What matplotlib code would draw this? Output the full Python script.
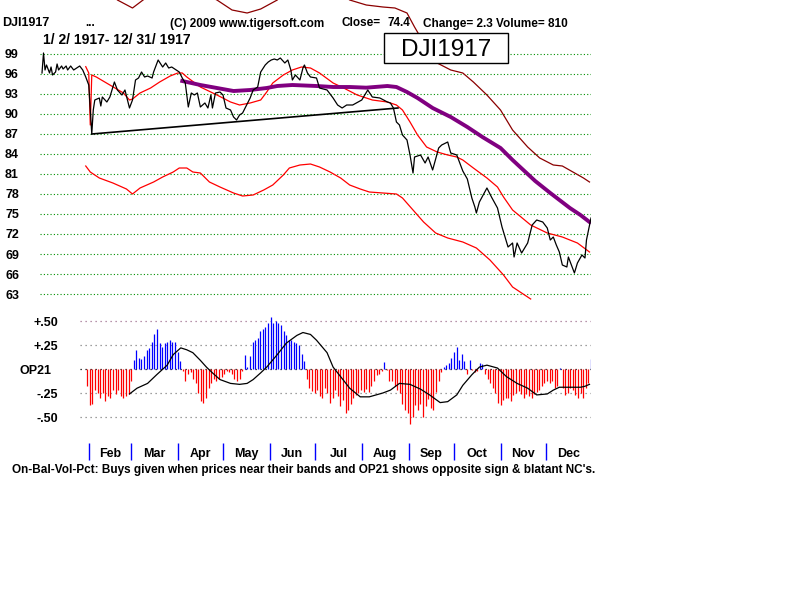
import numpy as np
import matplotlib
matplotlib.use("Agg")
import matplotlib.pyplot as plt
from matplotlib.patches import Rectangle
from matplotlib.transforms import blended_transform_factory

# ---- data (x = day of year) ----
close_days = [1, 2, 3, 4, 6, 7, 8, 10, 11, 12, 14, 15, 17, 18, 20, 22, 24, 26, 28, 30,
              32, 33, 34, 35, 36, 39, 40, 41, 44, 46, 49, 51, 54, 56, 59, 61, 63, 65, 67, 69,
              71, 74, 75, 78, 81, 83, 85, 87, 90, 92, 94, 96, 98, 100, 102, 104, 106, 109, 111, 113,
              114, 116, 119, 121, 123, 126, 128, 130, 132, 134, 136, 139, 141, 144, 146, 149, 151, 153, 155, 157,
              159, 162, 164, 166, 167, 169, 172, 174, 175, 177, 179, 183, 185, 190, 194, 197, 200, 203, 207, 213,
              217, 220, 225, 230, 232, 234, 236, 238, 240, 243, 245, 247, 248, 252, 255, 257, 260, 264, 266, 270,
              272, 276, 280, 283, 286, 288, 289, 291, 296, 299, 303, 306, 308, 310, 313, 314, 316, 319, 323, 326,
              329, 333, 336, 338, 340, 342, 344, 346, 349, 350, 352, 354, 356, 359, 361, 362, 365]
close_vals = [96.15, 99.15, 96.6, 97.35, 96.15, 97.05, 95.85, 96.3, 97.5, 96.6, 97.2, 96.75, 97.2, 96.6, 97.2, 96.6, 96.9, 97.2, 96.6, 95.55,
              94.35, 90.6, 87.0, 90.6, 92.1, 92.4, 91.2, 92.55, 91.8, 92.55, 94.8, 93.6, 92.85, 93.6, 90.9, 92.1, 95.1, 95.4, 96.3, 95.55,
              95.7, 95.4, 96.3, 98.1, 97.05, 97.65, 96.9, 97.05, 96.6, 96.3, 95.4, 94.65, 91.05, 93.15, 92.85, 93.15, 91.05, 91.65, 90.9, 92.85,
              90.9, 93.15, 93.3, 92.85, 90.9, 90.6, 89.55, 89.1, 89.85, 90.15, 91.05, 92.4, 93.6, 94.05, 96.3, 97.35, 97.8, 98.1, 98.25, 98.1,
              98.4, 97.65, 98.1, 96.6, 95.1, 95.85, 95.1, 96.9, 97.35, 96.15, 95.55, 95.4, 93.9, 93.6, 92.4, 91.35, 90.9, 91.35, 91.35, 92.1,
              93.6, 92.55, 92.4, 91.8, 91.65, 90.9, 88.8, 88.35, 86.85, 86.1, 83.85, 81.15, 83.55, 83.85, 82.65, 83.55, 81.6, 84.9, 85.35, 85.8,
              84.15, 83.85, 81.45, 80.25, 77.4, 76.05, 75.15, 76.8, 78.9, 77.55, 75.9, 73.05, 71.55, 70.05, 70.65, 68.55, 70.65, 69.15, 70.65, 73.35,
              74.1, 73.8, 72.9, 71.1, 71.55, 70.35, 69.3, 67.35, 67.05, 68.55, 67.35, 66.15, 67.65, 68.85, 68.4, 71.1, 74.4]

ma21_days = [30, 32, 33, 34, 37, 46, 55, 59, 61, 66, 73, 79, 86, 91, 94, 97, 106, 117, 126, 132,
             139, 146, 150, 154, 161, 167, 173, 179, 185, 194, 201, 210, 220, 230, 236, 240, 245, 250, 256, 263,
             270, 276, 280, 287, 296, 303, 307, 313, 325, 336, 346, 356, 364]
ma21_vals = [97.1, 96.15, 88.35, 95.85, 95.55, 94.35, 93.15, 92.1, 92.25, 93.15, 93.9, 94.8, 95.7, 96.15, 96.15, 95.55, 94.05, 92.85, 91.8, 91.35,
             91.65, 92.1, 93.3, 94.65, 95.85, 96.6, 97.05, 96.9, 96.15, 94.65, 93.9, 92.85, 92.1, 91.8, 91.35, 90.6, 88.8, 86.85, 85.05, 84.3,
             83.85, 83.55, 83.1, 81.9, 80.4, 79.05, 77.55, 75.6, 73.35, 72.15, 71.55, 70.65, 69.3]

upper_days = [30, 39, 51, 61, 68, 79, 92, 106, 117, 127, 137, 146, 157, 169, 179, 192, 205, 216, 227, 235,
              243, 248, 255, 263, 272, 280, 287, 296, 305, 313, 323, 331, 340, 346, 353, 360, 364]
upper_vals = [111.6, 110.1, 107.1, 105.9, 107.1, 108.9, 110.1, 108.3, 107.1, 105.6, 105.15, 105.75, 107.1, 110.85, 111.3, 109.35, 107.1, 106.35, 106.05, 105.9,
              105.15, 103.05, 100.35, 97.65, 96.6, 96.15, 94.8, 92.85, 90.6, 87.6, 85.05, 83.4, 82.35, 82.2, 81.3, 80.4, 79.8]

lower_days = [30, 33, 39, 48, 57, 61, 66, 75, 81, 88, 92, 97, 101, 106, 112, 119, 128, 134, 141, 148,
              154, 161, 165, 172, 179, 185, 192, 199, 205, 212, 218, 227, 236, 240, 247, 254, 262, 270, 280, 289,
              298, 307, 313, 325]
lower_vals = [82.2, 81.3, 80.4, 79.65, 78.75, 78.0, 78.9, 79.8, 80.55, 81.3, 81.9, 81.9, 81.3, 81.15, 79.8, 79.05, 78.15, 77.7, 77.85, 78.6,
              79.35, 80.85, 81.9, 82.35, 82.5, 82.05, 81.3, 80.4, 79.35, 78.75, 78.3, 78.15, 78.0, 77.4, 75.6, 73.8, 72.15, 71.4, 70.8, 69.9,
              68.1, 65.85, 64.05, 62.25]

ma65_days = [94, 106, 117, 128, 139, 150, 157, 167, 183, 194, 205, 216, 230, 236, 243, 250, 260, 272, 283, 293,
             305, 313, 328, 338, 351, 358, 364]
ma65_vals = [94.95, 94.35, 93.9, 93.45, 93.6, 93.9, 94.2, 94.35, 94.2, 94.05, 94.05, 93.95, 94.2, 94.05, 93.3, 92.4, 90.9, 89.55, 88.05, 86.55,
             84.9, 83.1, 79.95, 78.15, 75.9, 74.85, 73.8]

trend_days = [34, 237]
trend_vals = [87.0, 90.9]

# OP21 histogram, one bar per session from first_day to last_day
op21_first_day = 31
op21_last_day = 365
op21_vals = [-0.18, -0.38, -0.36, -0.22, -0.25, -0.30, -0.25, -0.33, -0.28, -0.30, -0.22, -0.26, -0.22, -0.28, -0.30, -0.28, -0.26, -0.13,
             0.09, 0.20, 0.11, 0.10, 0.14, 0.20, 0.22, 0.28, 0.36, 0.42, 0.27, 0.23, 0.27, 0.28, 0.30, 0.28, 0.28, 0.18, 0.08,
             -0.02, -0.13, -0.05, -0.03, -0.10, -0.15, -0.25, -0.33, -0.35, -0.30, -0.20, -0.15, -0.10, -0.12, -0.10, -0.08, -0.05, -0.02,
             -0.03, -0.05, -0.10, -0.13, -0.10, -0.02,
             0.15, 0.02, 0.14, 0.28, 0.30, 0.32, 0.40, 0.42, 0.44, 0.48, 0.54, 0.48, 0.50, 0.48, 0.46, 0.40, 0.35, 0.30, 0.30, 0.28,
             0.27, 0.25, 0.16, 0.08,
             -0.10, -0.20, -0.23, -0.25, -0.22, -0.28, -0.30, -0.20, -0.25, -0.35, -0.30, -0.22, -0.28,
             -0.39, -0.32, -0.46, -0.43, -0.36, -0.30, -0.27, -0.25, -0.22, -0.24, -0.21, -0.24, -0.18, -0.13, -0.06, -0.05, -0.02,
             0.07, -0.01, -0.13, -0.13, -0.18, -0.22, -0.25, -0.36, -0.43, -0.46, -0.57, -0.50, -0.38, -0.43, -0.36, -0.50, -0.39,
             -0.31, -0.41, -0.43, -0.24, -0.13, -0.03, 0.02, 0.04, 0.06, 0.11, 0.18, 0.23, 0.09, 0.16, 0.08, -0.05, 0.09,
             -0.01, -0.03, -0.02, 0.06, 0.05, -0.05, -0.10, -0.15, -0.20, -0.25, -0.35, -0.38, -0.32, -0.30, -0.30, -0.33, -0.27,
             -0.25, -0.23, -0.26, -0.30, -0.26, -0.28, -0.30, -0.26, -0.24, -0.22, -0.18, -0.15, -0.13, -0.15, -0.13, -0.20, -0.18,
             0.01, -0.20, -0.27, -0.25, -0.20, -0.22, -0.27, -0.30, -0.25, -0.30, -0.20, -0.15, 0.10]

op21_ma_days = [59, 64, 71, 77, 84, 88, 93, 97, 101, 106, 110, 114, 119, 126, 132, 137, 141, 146, 150, 157,
                163, 170, 174, 179, 183, 190, 194, 199, 205, 212, 218, 227, 232, 238, 245, 252, 258, 265, 270, 276,
                280, 286, 291, 296, 303, 309, 316, 323, 329, 336, 340, 344, 358, 361, 364]
op21_ma_vals = [-0.26, -0.20, -0.15, -0.06, 0.04, 0.15, 0.22, 0.20, 0.17, 0.09, 0.02, -0.04, -0.11, -0.15, -0.16, -0.15, -0.11, -0.04, 0.02, 0.15,
                0.27, 0.35, 0.38, 0.36, 0.30, 0.17, 0.02, -0.08, -0.20, -0.29, -0.29, -0.25, -0.22, -0.15, -0.16, -0.21, -0.27, -0.35, -0.34, -0.27,
                -0.17, -0.06, 0.02, 0.04, 0.01, -0.08, -0.15, -0.20, -0.27, -0.26, -0.22, -0.19, -0.19, -0.18, -0.16]

price_ticks = [99, 96, 93, 90, 87, 84, 81, 78, 75, 72, 69, 66, 63]
op21_ticks = [0.5, 0.25, 0, -0.25, -0.5]
op21_tick_labels = ["+.50", "+.25", "OP21", "-.25", "-.50"]
month_names = ["Feb", "Mar", "Apr", "May", "Jun", "Jul", "Aug", "Sep", "Oct", "Nov", "Dec"]
month_start_days = [32, 60, 91, 121, 152, 182, 213, 244, 274, 305, 335]
year_end_day = 365

# ---- layout helpers (screen pixels of an 800x600 picture) ----
W, H = 800, 600
PX_PER_DAY = 549 / 364.0


def box(x0, y0, x1, y1):
    return [x0 / W, 1 - y1 / H, (x1 - x0) / W, (y1 - y0) / H]


def day_at(px):
    return 1 + (px - 42) / PX_PER_DAY


def price_at(py):
    return 99 - (py - 54) * 0.15


FONT = "Liberation Sans"
small = dict(family=FONT, fontsize=8.5, fontweight="bold")
label = dict(family=FONT, fontsize=9, fontweight="bold")

fig = plt.figure(figsize=(8, 6), dpi=100)
fig.patch.set_facecolor("white")

# ---- price panel ----
ax1 = fig.add_axes(box(40, 0, 591, 300))
ax1.set_xlim(day_at(40), day_at(591))
ax1.set_ylim(price_at(300), price_at(0))
for s in ax1.spines.values():
    s.set_visible(False)
ax1.set_xticks([])
ax1.set_yticks(price_ticks)
ax1.set_yticklabels([])
ax1.tick_params(axis="y", length=0)
ax1.grid(axis="y", color="#009000", linestyle=(0, (1, 2)), linewidth=0.8)
t1 = blended_transform_factory(ax1.transAxes, ax1.transData)
for t in price_ticks:
    ax1.text((5 - 40) / 551.0, t, str(t), transform=t1, ha="left", va="center_baseline",
             clip_on=False, **label)

ax1.plot(upper_days, upper_vals, color="#8b0000", lw=0.9)
ax1.plot(lower_days, lower_vals, color="#ff0000", lw=0.9)
ax1.plot(ma21_days, ma21_vals, color="#ff0000", lw=0.9)
ax1.plot(ma65_days, ma65_vals, color="#800080", lw=2.8)
ax1.plot(trend_days, trend_vals, color="black", lw=1.2)
ax1.plot(close_days, close_vals, color="black", lw=0.9)

# ---- OP21 panel ----
ax2 = fig.add_axes(box(60, 310, 591, 460))
ax2.set_xlim(day_at(60), day_at(591))
ax2.set_ylim(-(460 - 369) / 96.0, (369 - 310) / 96.0)
for s in ax2.spines.values():
    s.set_visible(False)
ax2.set_yticks([])
t2 = blended_transform_factory(ax2.transAxes, ax2.transData)
for t, lab in zip(op21_ticks, op21_tick_labels):
    right = 52 if t == 0 else 58
    ax2.text((right - 60) / 531.0, t, lab, transform=t2, ha="right", va="center_baseline",
             clip_on=False, **label)

gx = (80 - 60) / 531.0
for t in op21_ticks:
    col = "black" if t == 0 else ("#a07090" if t == 0.5 else "#808080")
    ax2.axhline(t, xmin=gx, xmax=1, color=col, linestyle=(0, (1, 3)), lw=0.9, zorder=0)

bar_days = np.linspace(op21_first_day, op21_last_day, len(op21_vals))
bar_cols = ["#0000ff" if v > 0 else "#ff0000" for v in op21_vals]
ax2.vlines(bar_days, 0, op21_vals, colors=bar_cols, lw=0.9)
ax2.plot(op21_ma_days, op21_ma_vals, color="black", lw=0.9)

# month ticks and names
edges = month_start_days + [year_end_day]
mids = [(edges[i] + edges[i + 1]) / 2 for i in range(len(month_names))]
ax2.set_xticks(month_start_days)
ax2.set_xticklabels([])
ax2.tick_params(axis="x", which="major", direction="in", length=12, width=1, color="#0000ff")
ax2.set_xticks(mids, minor=True)
ax2.set_xticklabels(month_names, minor=True, **label)
ax2.tick_params(axis="x", which="minor", length=0, pad=-8.5)

# ---- header texts ----
y_head = 1 - 22 / H
fig.text(2 / W, y_head, "DJI1917", va="center_baseline", ha="left", **label)
fig.text(85 / W, y_head, "...", va="center_baseline", ha="left", **small)
fig.text(170 / W, y_head, "(C) 2009 www.tigersoft.com", va="center_baseline", ha="left", **small)
fig.text(342 / W, y_head, "Close=", va="center_baseline", ha="left", **small)
fig.text(388 / W, y_head, "74.4", va="center_baseline", ha="left", **small)
fig.text(423 / W, y_head, "Change= 2.3 Volume= 810", va="center_baseline", ha="left", **small)
fig.text(43 / W, 1 - 38 / H, "1/ 2/ 1917- 12/ 31/ 1917", va="center_baseline", ha="left",
         family=FONT, fontsize=10, fontweight="bold")

fig.patches.append(Rectangle((384 / W, 1 - 63 / H), 124 / W, 30 / H, transform=fig.transFigure,
                             facecolor="white", edgecolor="black", lw=1, zorder=2))
fig.text(446 / W, 1 - 48 / H, "DJI1917", va="center_baseline", ha="center", family=FONT,
         fontsize=17.5, zorder=3)

fig.text(12 / W, 1 - 468 / H,
         "On-Bal-Vol-Pct: Buys given when prices near their bands and OP21 shows opposite sign & blatant NC's.",
         va="center_baseline", ha="left", **small)

fig.savefig("out.png", dpi=100)
